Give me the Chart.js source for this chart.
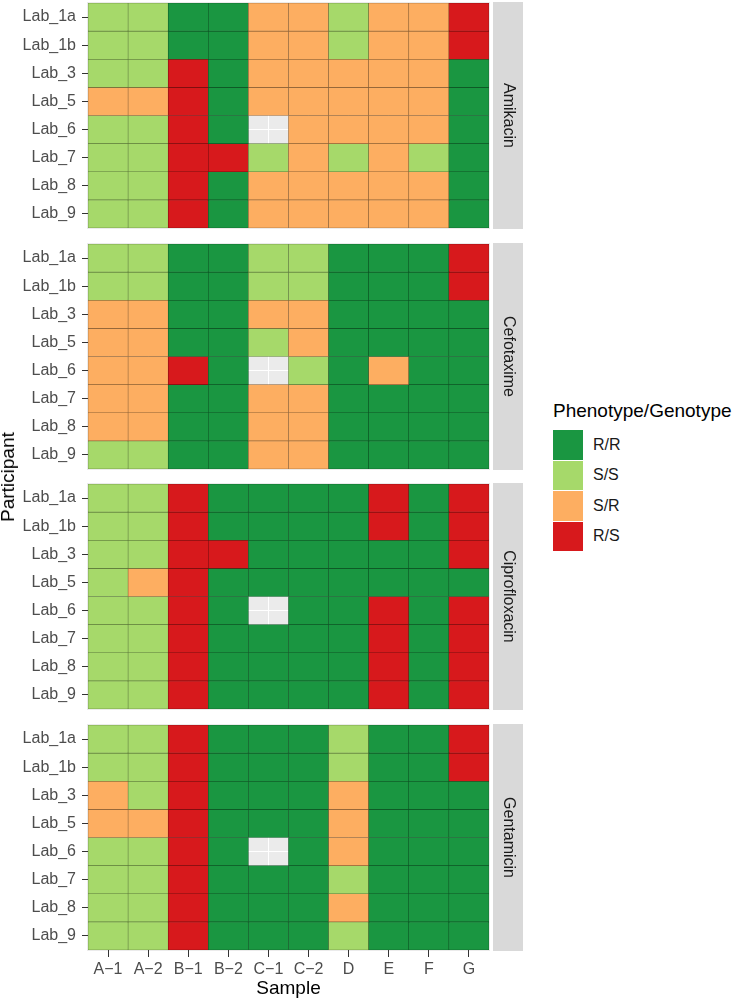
<!DOCTYPE html>
<html>
<head>
<meta charset="utf-8">
<script src="https://cdn.jsdelivr.net/npm/chart.js@4.4.1/dist/chart.umd.min.js"></script>
<style>
  body { margin: 0; background: #fff; font-family: "Liberation Sans", Arial, sans-serif; }
  #wrap { position: relative; width: 735px; height: 1000px; overflow: hidden; }
  canvas { position: absolute; left: 0; }
  #ytitle { position: absolute; left: 8px; top: 477px; font-size: 19px; color: #000;
            transform: translate(-50%, -50%) rotate(-90deg); white-space: nowrap; }
  #legend { position: absolute; left: 553px; top: 401px; }
  #legend .ttl { font-size: 19px; line-height: 20px; height: 20px; color: #000; margin-bottom: 9px; white-space: nowrap; }
  #legend .row { display: flex; align-items: center; height: 29.5px; margin-bottom: 1px; }
  #legend .key { width: 30px; height: 29.5px; }
  #legend .lbl { margin-left: 10px; font-size: 16px; color: #1A1A1A; }
</style>
</head>
<body>
<div id="wrap">
  <canvas id="p0" width="530" height="231" style="top:0px"></canvas>
  <canvas id="p1" width="530" height="231" style="top:241px"></canvas>
  <canvas id="p2" width="530" height="231" style="top:481px"></canvas>
  <canvas id="p3" width="530" height="278" style="top:722px"></canvas>
  <div id="ytitle">Participant</div>
  <div id="legend"><div class="ttl">Phenotype/Genotype</div></div>
</div>
<script>
const samples = ['A\u22121', 'A\u22122', 'B\u22121', 'B\u22122', 'C\u22121', 'C\u22122', 'D', 'E', 'F', 'G'];
const labs = ['Lab_1a', 'Lab_1b', 'Lab_3', 'Lab_5', 'Lab_6', 'Lab_7', 'Lab_8', 'Lab_9'];
const drugs = ['Amikacin', 'Cefotaxime', 'Ciprofloxacin', 'Gentamicin'];
const categories = ['R/R', 'S/S', 'S/R', 'R/S'];
const fills = ['#1A9641', '#A6D96A', '#FDAE61', '#D7191C'];
const edges = ['#0E5324', '#5B773A', '#8B6035', '#760E0F'];

// one row per lab, one entry per sample (null = not tested)
const amikacin = [
  ['S/S', 'S/S', 'R/R', 'R/R', 'S/R', 'S/R', 'S/S', 'S/R', 'S/R', 'R/S'],
  ['S/S', 'S/S', 'R/R', 'R/R', 'S/R', 'S/R', 'S/S', 'S/R', 'S/R', 'R/S'],
  ['S/S', 'S/S', 'R/S', 'R/R', 'S/R', 'S/R', 'S/R', 'S/R', 'S/R', 'R/R'],
  ['S/R', 'S/R', 'R/S', 'R/R', 'S/R', 'S/R', 'S/R', 'S/R', 'S/R', 'R/R'],
  ['S/S', 'S/S', 'R/S', 'R/R', null,  'S/R', 'S/R', 'S/R', 'S/R', 'R/R'],
  ['S/S', 'S/S', 'R/S', 'R/S', 'S/S', 'S/R', 'S/S', 'S/R', 'S/S', 'R/R'],
  ['S/S', 'S/S', 'R/S', 'R/R', 'S/R', 'S/R', 'S/R', 'S/R', 'S/R', 'R/R'],
  ['S/S', 'S/S', 'R/S', 'R/R', 'S/R', 'S/R', 'S/R', 'S/R', 'S/R', 'R/R']
];
const cefotaxime = [
  ['S/S', 'S/S', 'R/R', 'R/R', 'S/S', 'S/S', 'R/R', 'R/R', 'R/R', 'R/S'],
  ['S/S', 'S/S', 'R/R', 'R/R', 'S/S', 'S/S', 'R/R', 'R/R', 'R/R', 'R/S'],
  ['S/R', 'S/R', 'R/R', 'R/R', 'S/R', 'S/R', 'R/R', 'R/R', 'R/R', 'R/R'],
  ['S/R', 'S/R', 'R/R', 'R/R', 'S/S', 'S/R', 'R/R', 'R/R', 'R/R', 'R/R'],
  ['S/R', 'S/R', 'R/S', 'R/R', null,  'S/S', 'R/R', 'S/R', 'R/R', 'R/R'],
  ['S/R', 'S/R', 'R/R', 'R/R', 'S/R', 'S/R', 'R/R', 'R/R', 'R/R', 'R/R'],
  ['S/R', 'S/R', 'R/R', 'R/R', 'S/R', 'S/R', 'R/R', 'R/R', 'R/R', 'R/R'],
  ['S/S', 'S/S', 'R/R', 'R/R', 'S/R', 'S/R', 'R/R', 'R/R', 'R/R', 'R/R']
];
const ciprofloxacin = [
  ['S/S', 'S/S', 'R/S', 'R/R', 'R/R', 'R/R', 'R/R', 'R/S', 'R/R', 'R/S'],
  ['S/S', 'S/S', 'R/S', 'R/R', 'R/R', 'R/R', 'R/R', 'R/S', 'R/R', 'R/S'],
  ['S/S', 'S/S', 'R/S', 'R/S', 'R/R', 'R/R', 'R/R', 'R/R', 'R/R', 'R/S'],
  ['S/S', 'S/R', 'R/S', 'R/R', 'R/R', 'R/R', 'R/R', 'R/R', 'R/R', 'R/R'],
  ['S/S', 'S/S', 'R/S', 'R/R', null,  'R/R', 'R/R', 'R/S', 'R/R', 'R/S'],
  ['S/S', 'S/S', 'R/S', 'R/R', 'R/R', 'R/R', 'R/R', 'R/S', 'R/R', 'R/S'],
  ['S/S', 'S/S', 'R/S', 'R/R', 'R/R', 'R/R', 'R/R', 'R/S', 'R/R', 'R/S'],
  ['S/S', 'S/S', 'R/S', 'R/R', 'R/R', 'R/R', 'R/R', 'R/S', 'R/R', 'R/S']
];
const gentamicin = [
  ['S/S', 'S/S', 'R/S', 'R/R', 'R/R', 'R/R', 'S/S', 'R/R', 'R/R', 'R/S'],
  ['S/S', 'S/S', 'R/S', 'R/R', 'R/R', 'R/R', 'S/S', 'R/R', 'R/R', 'R/S'],
  ['S/R', 'S/S', 'R/S', 'R/R', 'R/R', 'R/R', 'S/R', 'R/R', 'R/R', 'R/R'],
  ['S/R', 'S/R', 'R/S', 'R/R', 'R/R', 'R/R', 'S/R', 'R/R', 'R/R', 'R/R'],
  ['S/S', 'S/S', 'R/S', 'R/R', null,  'R/R', 'S/R', 'R/R', 'R/R', 'R/R'],
  ['S/S', 'S/S', 'R/S', 'R/R', 'R/R', 'R/R', 'S/S', 'R/R', 'R/R', 'R/R'],
  ['S/S', 'S/S', 'R/S', 'R/R', 'R/R', 'R/R', 'S/R', 'R/R', 'R/R', 'R/R'],
  ['S/S', 'S/S', 'R/S', 'R/R', 'R/R', 'R/R', 'S/S', 'R/R', 'R/R', 'R/R']
];
const panels = [amikacin, cefotaxime, ciprofloxacin, gentamicin];

Chart.defaults.font.family = '"Liberation Sans", Arial, sans-serif';

const fillOf = c => c ? fills[categories.indexOf(c)] : 'rgba(0,0,0,0)';
const edgeOf = c => c ? edges[categories.indexOf(c)] : 'rgba(0,0,0,0)';

// grey panel background like ggplot
const panelBg = {
  id: 'panelBg',
  beforeDraw(chart) {
    const { ctx, chartArea: a } = chart;
    ctx.save();
    ctx.fillStyle = '#EBEBEB';
    ctx.fillRect(a.left - 1, a.top - 1, a.width + 2, a.height + 2);
    ctx.restore();
  }
};

// facet strip on the right
const strip = {
  id: 'strip',
  afterDraw(chart, args, opts) {
    const { ctx, chartArea: a } = chart;
    ctx.save();
    ctx.fillStyle = '#D9D9D9';
    ctx.fillRect(a.right + 4, a.top - 1, 30, a.height + 2);
    ctx.translate(a.right + 19, (a.top + a.bottom) / 2);
    ctx.rotate(Math.PI / 2);
    ctx.fillStyle = '#1A1A1A';
    ctx.font = '16px "Liberation Sans", Arial, sans-serif';
    ctx.textAlign = 'center';
    ctx.textBaseline = 'middle';
    ctx.fillText(opts.text, 0, 0);
    ctx.restore();
  }
};

// keep chart areas exactly where the facets sit
const noPad = s => { s.paddingTop = 0; s.paddingBottom = 0; s.paddingLeft = 0; s.paddingRight = 0; };

panels.forEach((rows, p) => {
  const bottom = p === panels.length - 1;
  new Chart(document.getElementById('p' + p), {
    type: 'bar',
    data: {
      labels: samples,
      datasets: labs.map((lab, r) => ({
        label: lab,
        data: rows[r].map(() => 1),
        backgroundColor: rows[r].map(fillOf),
        borderColor: rows[r].map(edgeOf),
        borderWidth: rows[r].map(c => c ? 0.6 : 0),
        borderSkipped: false,
        barPercentage: 1,
        categoryPercentage: 1
      }))
    },
    options: {
      responsive: false,
      animation: false,
      layout: { padding: { top: 3, bottom: bottom ? 0 : 3, left: 0, right: 41 } },
      plugins: {
        legend: { display: false },
        tooltip: { enabled: false },
        strip: { text: drugs[p] }
      },
      scales: {
        x: {
          stacked: true,
          offset: true,
          border: { display: false },
          grid: { offset: false, color: '#FFFFFF', lineWidth: 1,
                  tickColor: bottom ? '#333333' : 'rgba(0,0,0,0)', tickLength: 7 },
          ticks: { display: bottom, color: '#4D4D4D', font: { size: 16 }, padding: 3, maxRotation: 0 },
          title: { display: bottom, text: 'Sample', color: '#000', font: { size: 19 }, padding: 0 },
          afterFit: s => { s.height = bottom ? 50 : 0; noPad(s); }
        },
        y: {
          stacked: true,
          reverse: true,
          min: 0,
          max: 8,
          border: { display: false },
          grid: { color: '#FFFFFF', lineWidth: 1, tickColor: '#333333', tickLength: 6 },
          afterBuildTicks: s => { s.ticks = labs.map((l, i) => ({ value: i + 0.5 })); },
          ticks: { color: '#4D4D4D', font: { size: 16 }, padding: 6, autoSkip: false,
                   callback: (v, i) => labs[i] },
          afterFit: s => { s.width = 88; noPad(s); }
        }
      }
    },
    plugins: [panelBg, strip]
  });
});

// legend
const legend = document.getElementById('legend');
categories.forEach((c, i) => {
  const row = document.createElement('div');
  row.className = 'row';
  row.innerHTML = '<div class="key" style="background:' + fills[i] + '"></div><span class="lbl">' + c + '</span>';
  legend.appendChild(row);
});
</script>
</body>
</html>
